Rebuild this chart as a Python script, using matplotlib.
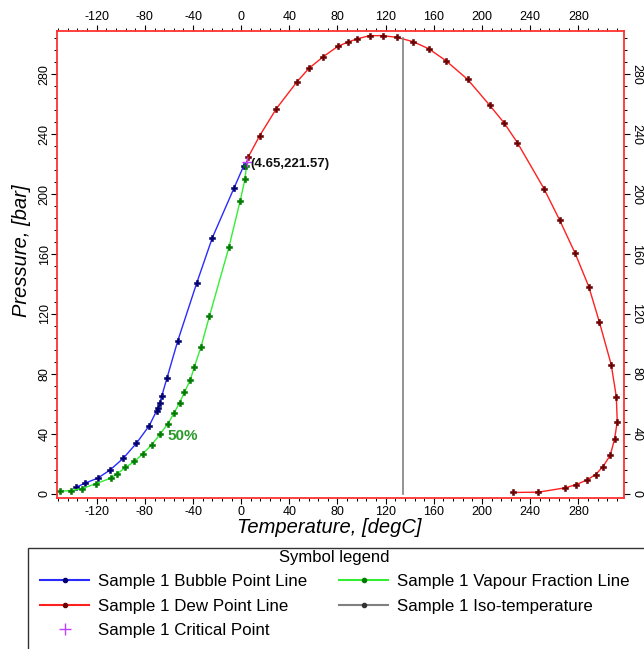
import numpy as np
import matplotlib
matplotlib.use("Agg")
import matplotlib.pyplot as plt
from matplotlib.lines import Line2D
from matplotlib.patches import Rectangle
from matplotlib.ticker import MultipleLocator

plt.rcParams['font.family'] = ['Liberation Sans', 'DejaVu Sans']
plt.rcParams['axes.unicode_minus'] = False

# ── phase envelope data (T in degC, P in bar) ─────────────────────────────
bubble_t = [-137.0, -129.8, -119.3, -109.1, -98.1, -87.0, -76.3, -70.2, -69.4,
            -67.8, -65.9, -61.7, -52.6, -36.9, -24.0, -6.0, 2.2, 4.65]
bubble_p = [4.2, 6.9, 10.2, 15.6, 23.4, 33.6, 45.4, 55.4, 56.8,
            60.3, 65.3, 77.0, 102.2, 140.7, 170.8, 204.0, 219.1, 221.57]

vapour_t = [-150.4, -141.1, -132.0, -120.9, -108.5, -103.0, -96.1, -88.7, -81.8,
            -74.1, -67.2, -60.9, -55.6, -51.2, -47.1, -42.4, -38.8, -33.3,
            -26.4, -10.2, -0.8, 3.1, 4.4]
vapour_p = [1.5, 2.0, 3.3, 6.5, 10.2, 13.2, 17.4, 21.4, 26.5,
            32.7, 39.9, 46.6, 53.9, 60.6, 67.7, 75.7, 84.8, 98.2,
            118.4, 164.5, 195.7, 209.8, 219.1]

dew_t = [4.65, 5.8, 15.4, 29.3, 46.5, 56.2, 68.3, 80.4, 88.4, 96.1, 106.6, 117.4,
         129.2, 142.7, 155.9, 170.0, 188.2, 206.4, 218.4, 229.5, 251.5, 264.7,
         277.4, 288.7, 297.5, 307.4, 311.6, 312.4, 310.2, 306.6, 300.6, 294.5,
         287.3, 278.5, 269.2, 246.9, 225.6]
dew_p = [221.57, 224.7, 239.1, 257.2, 275.2, 284.0, 291.9, 298.8, 301.5, 303.7,
         305.9, 305.9, 304.8, 301.9, 297.1, 289.2, 276.6, 259.4, 247.6, 234.3,
         203.7, 182.4, 160.5, 138.3, 114.7, 86.0, 64.8, 48.1, 36.5, 25.6, 18.0,
         12.7, 9.1, 6.0, 3.8, 0.9, 0.7]

iso_t = [134.5, 134.5]
iso_p = [0.0, 304.0]

crit_t, crit_p = 4.65, 221.57
label_50_t, label_50_p = -61.0, 38.5

BLUE, BLUE_M = '#2a2aff', '#000070'
GREEN, GREEN_M = '#33ee33', '#007a00'
RED, RED_M = '#ff2020', '#6a0000'
GREY = '#808080'
PURPLE = '#c040ff'

fig = plt.figure(figsize=(6.44, 6.49), dpi=100, facecolor='white')
ax = fig.add_axes([57 / 644, 1 - 498 / 649, (624 - 57) / 644, (498 - 31) / 649])

mk = dict(marker='P', markersize=4.5, markeredgewidth=0.4)
ax.plot(bubble_t[:-1], bubble_p[:-1], color=BLUE, lw=1.0, markerfacecolor=BLUE_M,
        markeredgecolor=BLUE_M, **mk)
ax.plot(bubble_t[-2:], bubble_p[-2:], color=BLUE, lw=1.0)
ax.plot(vapour_t, vapour_p, color=GREEN, lw=1.0, markerfacecolor=GREEN_M,
        markeredgecolor=GREEN_M, **mk)
ax.plot(dew_t[1:], dew_p[1:], color=RED, lw=1.0, markerfacecolor=RED_M,
        markeredgecolor=RED_M, **mk)
ax.plot(dew_t[:2], dew_p[:2], color=RED, lw=1.0)
ax.plot(iso_t, iso_p, color=GREY, lw=1.2)
ax.plot([crit_t], [crit_p], marker='+', color=PURPLE, markersize=7, mew=1.0, ls='none')

ax.text(crit_t + 3.0, crit_p - 1.5, f"({crit_t},{crit_p})", fontsize=9.5,
        fontweight='bold', va='center', ha='left', color='#111111')
ax.text(label_50_t, label_50_p, "50%", fontsize=11, fontweight='bold',
        color='#2a9a2a', va='center', ha='left')

ax.set_xlim(-153, 318)
ax.set_ylim(-3, 309)

for s in ax.spines.values():
    s.set_color('#ff3030')
    s.set_linewidth(1.3)

ax.xaxis.set_minor_locator(MultipleLocator(8))
ax.yaxis.set_minor_locator(MultipleLocator(8))
ax.set_xticks(np.arange(-120, 281, 40))
ax.set_yticks(np.arange(0, 281, 40))
ax.tick_params(which='both', direction='out', top=True, right=True,
               labeltop=True, labelright=True, colors='black', labelsize=9)
ax.tick_params(which='major', length=4, width=0.8, pad=1.5)
ax.tick_params(which='minor', length=2, width=0.7)
for lab in ax.get_yticklabels():
    lab.set_rotation(90)
    lab.set_va('center')
for tl in ax.yaxis.get_major_ticks():
    tl.label2.set_rotation(270)
    tl.label2.set_va('center')
    tl.set_pad(0.5)

ax.set_xlabel("Temperature, [degC]", fontsize=14.5, style='italic')
ax.xaxis.set_label_coords(0.48, -0.042, transform=ax.transAxes)
ax.xaxis.label.set_va('top')
ax.set_ylabel("Pressure, [bar]", fontsize=14.5, style='italic')
ax.yaxis.set_label_coords(-0.045, 0.53)

# legend box (runs off the figure edge like the reference)
fig.patches.append(Rectangle((28 / 644, -0.05), 1.0, 0.05 + 1 - 548 / 649,
                             transform=fig.transFigure, fill=False,
                             edgecolor='#333333', lw=1.0))
handles = [
    Line2D([], [], color=BLUE, marker='o', markersize=3, mfc=BLUE_M, mec=BLUE_M),
    Line2D([], [], color=RED, marker='o', markersize=3, mfc=RED_M, mec=RED_M),
    Line2D([], [], color=PURPLE, marker='+', markersize=9, ls='none'),
    Line2D([], [], color=GREEN, marker='o', markersize=3, mfc=GREEN_M, mec=GREEN_M),
    Line2D([], [], color=GREY, marker='o', markersize=3, mfc='#333333', mec='#333333'),
]
labels = ["Sample 1 Bubble Point Line", "Sample 1 Dew Point Line",
          "Sample 1 Critical Point", "Sample 1 Vapour Fraction Line",
          "Sample 1 Iso-temperature"]
leg = fig.legend(handles, labels, ncol=2, loc='upper left',
                 bbox_to_anchor=(40 / 644, 1 - 550 / 649), frameon=False,
                 fontsize=12.2, title="Symbol legend", title_fontsize=12,
                 handlelength=2.9, handletextpad=0.5, columnspacing=1.9,
                 labelspacing=0.55, numpoints=1, borderpad=0, borderaxespad=0)

fig.savefig("out.png", dpi=100, facecolor='white')
